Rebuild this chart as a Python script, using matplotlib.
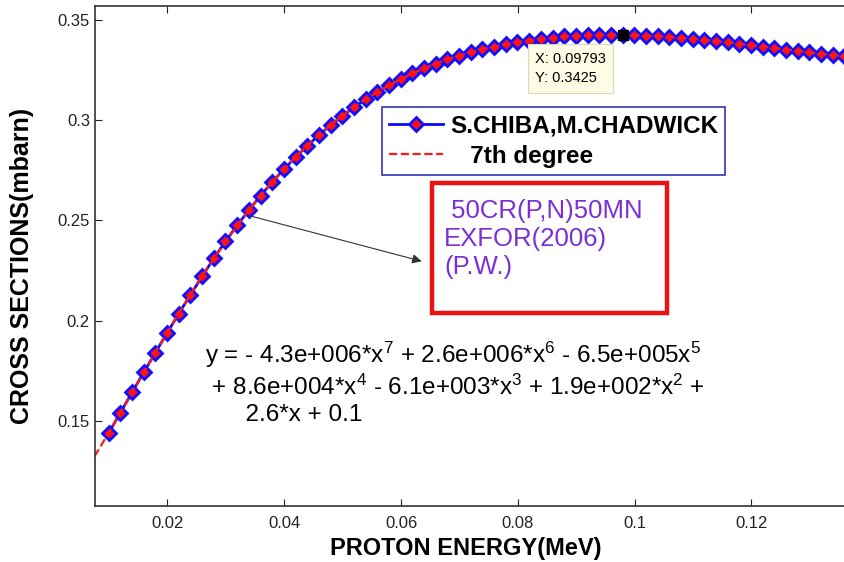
import matplotlib.pyplot as plt
import numpy as np

plt.rcParams['font.family'] = ['Liberation Sans', 'DejaVu Sans']
plt.rcParams['mathtext.fontset'] = 'custom'
plt.rcParams['mathtext.rm'] = 'Liberation Sans'
plt.rcParams['mathtext.it'] = 'Liberation Sans'

# S.CHIBA, M.CHADWICK evaluated cross sections
energy = 0.00993 + 0.002 * np.arange(65)
cross = [0.1438, 0.1540, 0.1641, 0.1741, 0.1840, 0.1938, 0.2034, 0.2128, 0.2220, 0.2310,
         0.2395, 0.2475, 0.2551, 0.2623, 0.2691, 0.2755, 0.2815, 0.2872, 0.2925, 0.2975,
         0.3021, 0.3064, 0.3104, 0.3141, 0.3175, 0.3206, 0.3234, 0.3259, 0.3282, 0.3303,
         0.3322, 0.3339, 0.3354, 0.3367, 0.3378, 0.3388, 0.3397, 0.3405, 0.3412, 0.3418,
         0.3422, 0.3425, 0.3427, 0.3427, 0.3425, 0.3424, 0.3422, 0.3419, 0.3416, 0.3411,
         0.3406, 0.3400, 0.3394, 0.3388, 0.3381, 0.3374, 0.3367, 0.3360, 0.3352, 0.3345,
         0.3338, 0.3332, 0.3325, 0.3318, 0.3311]
tip = 44  # data tip point
xticks = [0.02, 0.04, 0.06, 0.08, 0.1, 0.12]
xticklabels = ['0.02', '0.04', '0.06', '0.08', '0.1', '0.12']
yticks = [0.15, 0.2, 0.25, 0.3, 0.35]
yticklabels = ['0.15', '0.2', '0.25', '0.3', '0.35']

# 7th degree fit
fit = np.polynomial.Polynomial.fit(energy, cross, 7)
xf = np.linspace(0.0075, 0.1403, 300)

fig = plt.figure(figsize=(8.44, 5.62), dpi=100)
ax = fig.add_axes([94.5 / 844, 56 / 562, 775.5 / 844, 500 / 562])

ax.plot(energy, cross, '-', color='#0a0aff', lw=2, marker='D', ms=7.5,
        mfc='#ff1010', mec='#1010ff', mew=2, label='S.CHIBA,M.CHADWICK')
ax.plot(xf, fit(xf), '--', color='#ff1a1a', lw=1.6, label='   7th degree')
ax.plot(energy[tip], cross[tip], 's', color='black', ms=7)

ax.set_xlim(0.0075, 0.1403)
ax.set_ylim(0.1074, 0.357)
ax.set_xticks(xticks)
ax.set_xticklabels(xticklabels)
ax.set_yticks(yticks)
ax.set_yticklabels(yticklabels)
ax.tick_params(direction='in', length=5, top=True, right=True, labelsize=12,
               colors='#222222')
ax.tick_params(axis='x', pad=7)
ax.tick_params(axis='y', pad=3.3)
for s in ax.spines.values():
    s.set_linewidth(1.2)
    s.set_color('#333333')

ax.set_xlabel('PROTON ENERGY(MeV)', fontsize=17, fontweight='bold', va='center')
ax.xaxis.set_label_coords(0.479, -0.084)
ax.set_ylabel('CROSS SECTIONS(mbarn)', fontsize=18, fontweight='bold', va='center')
ax.yaxis.set_label_coords(-0.0935, 0.48)

leg = ax.legend(loc='upper left', bbox_to_anchor=(382 / 844, 1 - 107 / 562),
                bbox_transform=fig.transFigure, borderaxespad=0, fancybox=False,
                prop={'weight': 'bold', 'size': 17.5}, handlelength=2.2,
                handletextpad=0.3, borderpad=0.3, labelspacing=0.3, framealpha=1)
leg.get_frame().set_edgecolor('#3333bb')
leg.get_frame().set_linewidth(1.2)

# data tip
ax.annotate('X: 0.09793\nY: 0.3425', xy=(energy[tip], cross[tip]), xytext=(-63, -12),
            textcoords='offset points', va='top', ha='left', fontsize=10.5,
            linespacing=1.5,
            bbox=dict(boxstyle='square,pad=0.5', fc='#fdfde6', ec='#d8d8c0', lw=0.8))

# red box with reaction label
fig.patches.append(plt.Rectangle((432 / 844, 1 - 313 / 562), 235 / 844, 130 / 562,
                                 transform=fig.transFigure, fill=False,
                                 ec='#ee1111', lw=3.2))
fig.text(444 / 844, 1 - 239 / 562, ' 50CR(P,N)50MN\nEXFOR(2006)\n(P.W.)', color='#7a30d6',
         fontsize=18.5, va='center', ha='left', linespacing=1.22)

ax.annotate('', xy=(0.0640, 0.2292), xytext=(0.0338, 0.2525),
            arrowprops=dict(arrowstyle='-|>', color='#333333', lw=0.8,
                            mutation_scale=14))

eq = ('y = - 4.3e+006*x$^7$ + 2.6e+006*x$^6$ - 6.5e+005x$^5$\n'
      ' + 8.6e+004*x$^4$ - 6.1e+003*x$^3$ + 1.9e+002*x$^2$ +\n'
      '      2.6*x + 0.1')
fig.text(205 / 844, 1 - 383 / 562, eq, fontsize=17.5, va='center', ha='left', linespacing=1.25)

fig.savefig('out.png', dpi=100)
